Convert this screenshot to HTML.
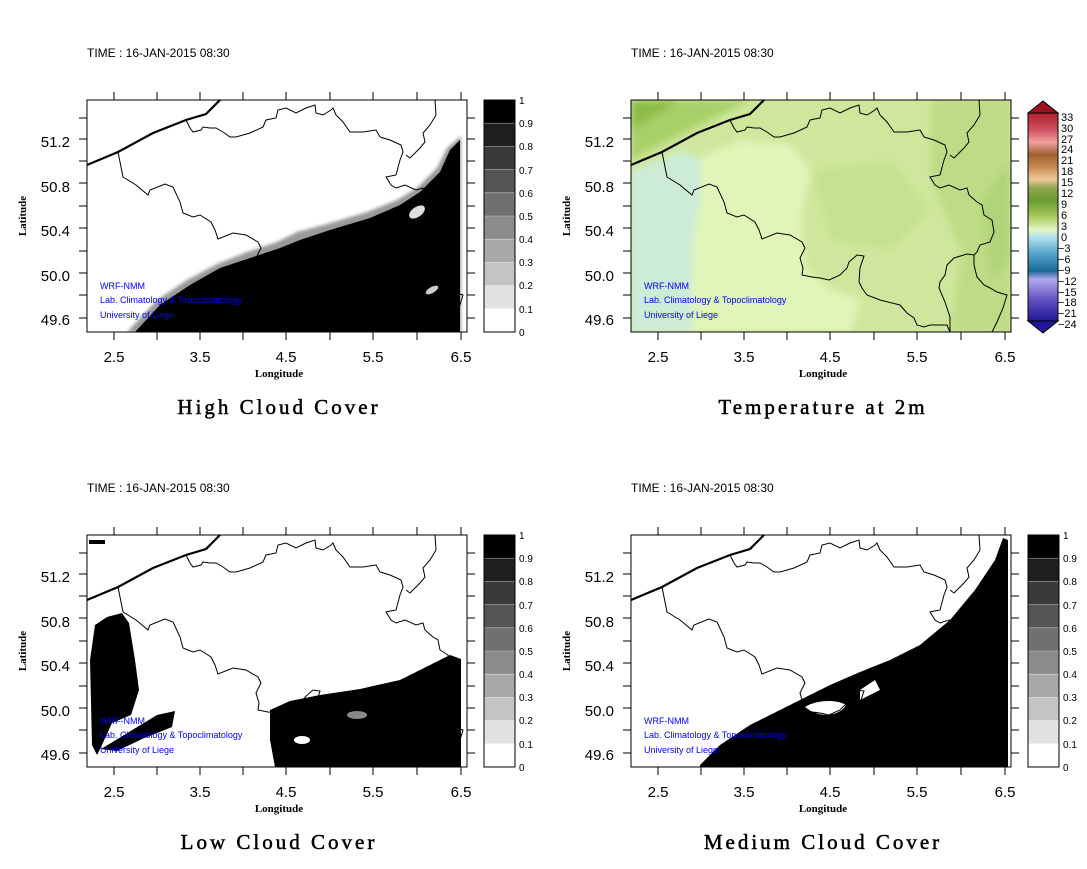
<!DOCTYPE html>
<html><head><meta charset="utf-8"><style>
html,body{margin:0;padding:0;background:#fff}
svg{display:block}
.t{font-family:"Liberation Sans",sans-serif;font-size:12px;fill:#000}
.tk{font-family:"Liberation Sans",sans-serif;font-size:15px;fill:#000}
.cb{font-family:"Liberation Sans",sans-serif;font-size:10px;fill:#000}
.ax{font-family:"Liberation Serif",serif;font-size:11px;font-weight:bold;fill:#000}
.ti{font-family:"Liberation Serif",serif;font-size:21px;fill:#000;letter-spacing:3px;stroke:#000;stroke-width:.5px}
.bl{font-family:"Liberation Sans",sans-serif;font-size:9px;fill:#0000ff}
</style></head><body>
<svg width="1087" height="869" viewBox="0 0 1087 869" xmlns="http://www.w3.org/2000/svg">
<defs>
<g id="bord" fill="none" stroke="#000" stroke-width="1">
<polyline points="31,52 34,67 36,77 49,85 61,95 63,90 78,84 86,87 93,102 96,113 106,117 113,115 124,122 128,130 131,139 146,133 159,135 171,142 174,148 169,158 172,168 171,175 181,177 189,178 198,180 209,175 216,168 218,162 226,155 233,156 229,168 228,182 231,188 236,195 249,200 269,205 276,213 283,218 286,225 293,227 299,225 316,225 319,232"/>
<polyline points="99,20 103,28 106,32 114,30 116,27 123,28 129,28 136,32 143,37 149,37 163,33 176,27 179,20 189,18 191,10 199,8 209,13 219,8 228,5 229,13 236,15 244,10 246,8 249,15 256,22 263,32 276,32 289,30 293,37 303,40 314,45 316,52 313,60 309,75 299,77 304,85 309,88 318,85 329,90 336,88 338,95 346,102 351,105 353,115 361,120 363,132 359,142 349,145 346,152 343,155 336,154 323,158 316,165 314,175 309,182 308,188 311,195 314,202 316,208 319,217 319,232"/>
<polyline points="343,155 343,165 346,177 353,185 359,188 366,192 376,195 372,208 366,222 361,232"/>
<polyline points="348,0 349,15 343,25 336,33 338,42 333,48 323,58 319,55"/>
<polyline points="0,65 31,52 66,33 99,20 119,14 133,0" stroke-width="2.2"/>
</g>
<g id="ticks" stroke="#000" stroke-width="1">
<path d="M27,0v-8M70,0v-8M113,0v-8M156,0v-8M199,0v-8M243,0v-8M286,0v-8M330,0v-8M374,0v-8M27,232v8M70,232v8M113,232v8M156,232v8M199,232v8M243,232v8M286,232v8M330,232v8M374,232v8M0,18h-8M0,39h-8M0,61h-8M0,83h-8M0,106h-8M0,128h-8M0,151h-8M0,173h-8M0,195h-8M0,218h-8M380,18h8M380,39h8M380,61h8M380,83h8M380,106h8M380,128h8M380,151h8M380,173h8M380,195h8M380,218h8"/>
</g>
<g id="labs">
<text class="tk" x="-17" y="47" text-anchor="end">51.2</text>
<text class="tk" x="-17" y="92" text-anchor="end">50.8</text>
<text class="tk" x="-17" y="136" text-anchor="end">50.4</text>
<text class="tk" x="-17" y="181" text-anchor="end">50.0</text>
<text class="tk" x="-17" y="225" text-anchor="end">49.6</text>
<text class="tk" x="27" y="262" text-anchor="middle">2.5</text>
<text class="tk" x="113" y="262" text-anchor="middle">3.5</text>
<text class="tk" x="199" y="262" text-anchor="middle">4.5</text>
<text class="tk" x="286" y="262" text-anchor="middle">5.5</text>
<text class="tk" x="374" y="262" text-anchor="middle">6.5</text>
<text class="ax" x="192" y="277" text-anchor="middle">Longitude</text>
<text class="ax" transform="translate(-61,116) rotate(-90)" text-anchor="middle">Latitude</text>
<text class="t" x="0" y="-43">TIME : 16-JAN-2015 08:30</text>
<text class="bl" x="13" y="189">WRF-NMM</text>
<text class="bl" x="13" y="203">Lab. Climatology &amp; Topoclimatology</text>
<text class="bl" x="13" y="218">University of Liege</text>
</g>
<g id="gbar">
<rect x="397" y="0" width="31" height="23.2" fill="#000"/>
<rect x="397" y="23.2" width="31" height="23.2" fill="#1e1e1e"/>
<rect x="397" y="46.4" width="31" height="23.2" fill="#3a3a3a"/>
<rect x="397" y="69.6" width="31" height="23.2" fill="#555"/>
<rect x="397" y="92.8" width="31" height="23.2" fill="#707070"/>
<rect x="397" y="116" width="31" height="23.2" fill="#8c8c8c"/>
<rect x="397" y="139.2" width="31" height="23.2" fill="#a8a8a8"/>
<rect x="397" y="162.4" width="31" height="23.2" fill="#c4c4c4"/>
<rect x="397" y="185.6" width="31" height="23.2" fill="#e2e2e2"/>
<rect x="397" y="208.8" width="31" height="23.2" fill="#fff"/>
<path d="M397,23.2h31M397,46.4h31M397,69.6h31M397,92.8h31M397,116h31M397,139.2h31M397,162.4h31M397,185.6h31M397,208.8h31" stroke="#fff" stroke-width=".6" opacity=".5"/>
<rect x="397" y="0" width="31" height="232" fill="none" stroke="#000"/>
<g class="cb">
<text x="432" y="4">1</text><text x="432" y="27">0.9</text><text x="432" y="50">0.8</text><text x="432" y="74">0.7</text><text x="432" y="97">0.6</text><text x="432" y="120">0.5</text><text x="432" y="143">0.4</text><text x="432" y="166">0.3</text><text x="432" y="189">0.2</text><text x="432" y="213">0.1</text><text x="432" y="236">0</text>
</g>
</g>
<clipPath id="fr"><rect x="0" y="0" width="380" height="232"/></clipPath>
<filter id="bl3"><feGaussianBlur stdDeviation="4"/></filter>
<filter id="bl1"><feGaussianBlur stdDeviation="1.5"/></filter>
<linearGradient id="tg" x1="0" y1="0" x2="0" y2="1">
<stop offset="0" stop-color="#b02030"/><stop offset=".08" stop-color="#d05060"/><stop offset=".14" stop-color="#f0a0a0"/>
<stop offset=".2" stop-color="#a06030"/><stop offset=".26" stop-color="#c88a50"/><stop offset=".32" stop-color="#f0c898"/>
<stop offset=".36" stop-color="#90a850"/><stop offset=".42" stop-color="#6a9a30"/><stop offset=".5" stop-color="#a8cc60"/>
<stop offset=".56" stop-color="#e4f4c0"/><stop offset=".6" stop-color="#b0e0f0"/><stop offset=".68" stop-color="#50a0c8"/>
<stop offset=".76" stop-color="#1a6a98"/><stop offset=".8" stop-color="#b0a8f0"/><stop offset=".9" stop-color="#6050c0"/><stop offset="1" stop-color="#201898"/>
</linearGradient>
</defs>

<g transform="translate(87,100)">
<g clip-path="url(#fr)">
<path d="M40,232 L70,200 100,180 130,164 160,152 190,142 210,132 240,124 280,112 310,100 330,88 350,68 360,48 374,36 374,232Z" fill="#999" filter="url(#bl1)"/>
<path d="M48,232 L73,205 103,185 133,168 163,158 193,148 213,140 243,130 283,118 313,105 333,92 353,72 363,50 373,40 373,232Z" fill="#000"/>
<ellipse cx="330" cy="112" rx="9" ry="5" fill="#ddd" transform="rotate(-35 330 112)"/>
<ellipse cx="345" cy="190" rx="7" ry="3" fill="#ccc" transform="rotate(-30 345 190)"/>
</g>
<use href="#bord"/>
<rect x="0" y="0" width="380" height="232" fill="none" stroke="#000"/>
<use href="#ticks"/><use href="#labs"/><use href="#gbar"/>
<text class="ti" x="192" y="314" text-anchor="middle">High Cloud Cover</text>
</g>

<g transform="translate(631,100)">
<g clip-path="url(#fr)">
<rect x="0" y="0" width="380" height="232" fill="#cfe79c"/>
<g filter="url(#bl3)">
<path d="M40,70 L110,40 160,45 180,70 170,120 175,170 200,190 230,200 220,232 60,232 30,200Z" fill="#e0f5b8"/>
<path d="M0,70 L30,60 50,50 70,60 70,100 62,140 60,232 0,232Z" fill="#cdecd8"/>
<path d="M0,0 L120,0 60,30 0,60Z" fill="#a8d06a"/>
<path d="M0,0 L50,0 0,30Z" fill="#8cbc44"/>
<path d="M300,0 L380,0 380,232 320,232 330,150 300,80Z" fill="#bedc85"/>
<path d="M350,100 L380,60 380,160 360,180Z" fill="#b0d478"/>
<path d="M180,70 L260,60 300,110 260,150 200,140Z" fill="#c6e290"/>
</g>
</g>
<use href="#bord"/>
<rect x="0" y="0" width="380" height="232" fill="none" stroke="#000"/>
<use href="#ticks"/><use href="#labs"/>
<rect x="397" y="13" width="30" height="208" fill="url(#tg)" stroke="#000"/>
<path d="M397,13 L412,1 427,13Z" fill="#9a1420" stroke="#000"/>
<path d="M397,221 L412,233 427,221Z" fill="#201898" stroke="#000"/>
<g class="cb" font-size="11" style="font-size:11px">
<text x="430" y="21">33</text><text x="430" y="32">30</text><text x="430" y="43">27</text><text x="430" y="53">24</text><text x="430" y="64">21</text><text x="430" y="75">18</text><text x="430" y="86">15</text><text x="430" y="97">12</text><text x="430" y="108">9</text><text x="430" y="119">6</text><text x="430" y="130">3</text><text x="430" y="141">0</text><text x="427" y="152">−3</text><text x="427" y="163">−6</text><text x="427" y="174">−9</text><text x="427" y="185">−12</text><text x="427" y="196">−15</text><text x="427" y="206">−18</text><text x="427" y="217">−21</text><text x="427" y="228">−24</text>
</g>
<text class="ti" x="192" y="314" text-anchor="middle">Temperature at 2m</text>
</g>

<g transform="translate(87,535)">
<g clip-path="url(#fr)">
<rect x="2" y="5" width="16" height="4" fill="#000"/>
<path d="M3,125 L8,90 20,82 35,78 42,88 48,125 52,155 44,180 25,188 14,212 10,220 5,210Z" fill="#000"/>
<path d="M14,214 L70,180 88,176 85,192 55,204 30,216Z" fill="#000"/>
<path d="M183,175 L203,166 233,160 273,154 313,145 343,130 363,120 374,124 374,232 188,232 183,205Z" fill="#000"/>
<ellipse cx="215" cy="205" rx="8" ry="4" fill="#fff"/>
<ellipse cx="270" cy="180" rx="10" ry="4" fill="#888"/>
</g>
<use href="#bord"/>
<rect x="0" y="0" width="380" height="232" fill="none" stroke="#000"/>
<use href="#ticks"/><use href="#labs"/><use href="#gbar"/>
<text class="ti" x="192" y="314" text-anchor="middle">Low Cloud Cover</text>
</g>

<g transform="translate(631,535)">
<g clip-path="url(#fr)">
<path d="M69,230 L89,210 119,190 149,175 169,165 199,150 229,137 259,125 289,110 319,85 344,55 364,25 372,3 377,5 377,232 69,232Z" fill="#000"/>
<path d="M174,172 C185,165 205,164 215,170 C210,180 190,185 174,172Z" fill="#fff"/>
<path d="M229,155 L244,145 249,155 229,165Z" fill="#fff"/>
</g>
<use href="#bord"/>
<rect x="0" y="0" width="380" height="232" fill="none" stroke="#000"/>
<use href="#ticks"/><use href="#labs"/><use href="#gbar"/>
<text class="ti" x="192" y="314" text-anchor="middle">Medium Cloud Cover</text>
</g>
</svg>
</body></html>
